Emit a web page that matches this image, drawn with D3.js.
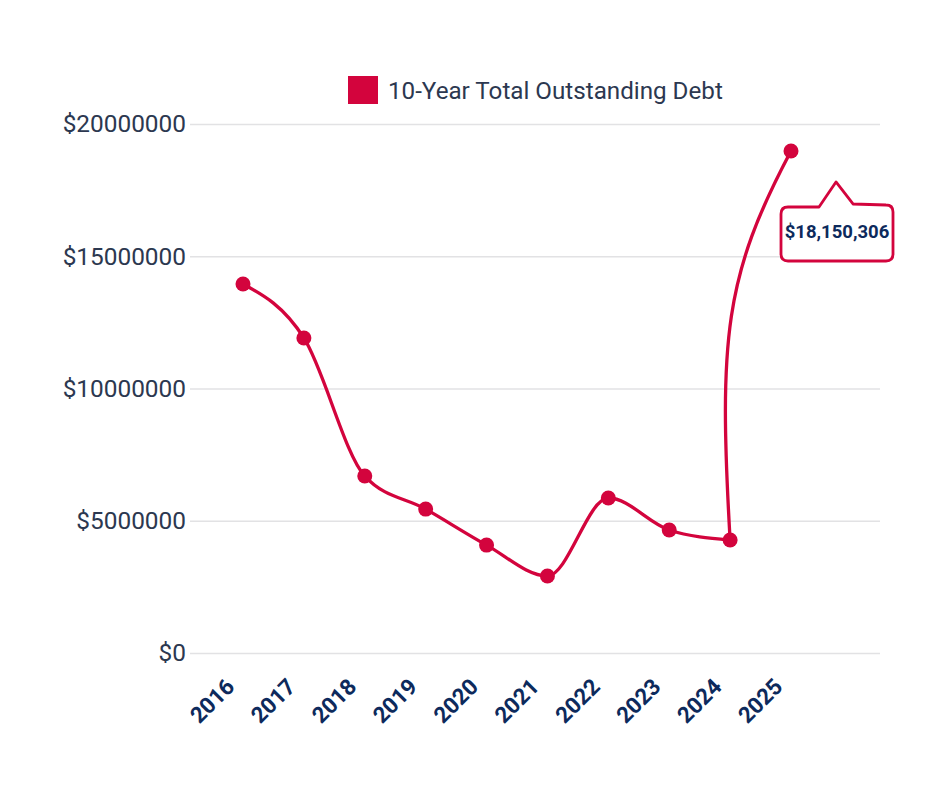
<!DOCTYPE html>
<html>
<head>
<meta charset="utf-8">
<script src="https://cdn.jsdelivr.net/npm/d3@7"></script>
<style>
  body { margin: 0; background: #fff; }
  svg { display: block; font-family: Roboto, "Noto Sans", sans-serif; }
</style>
</head>
<body>
<svg width="940" height="788"></svg>
<script>
// data
const years = ["2016", "2017", "2018", "2019", "2020", "2021", "2022", "2023", "2024", "2025"];
const debt = [13950000, 11910000, 6690000, 5440000, 4080000, 2910000, 5860000, 4650000, 4270000, 18980000];
const yTicks = [0, 5000000, 10000000, 15000000, 20000000];
const seriesName = "10-Year Total Outstanding Debt";
const tipLabel = "$18,150,306";

const red = "#d3043d",
    navy = "#0d2a5c",
    grey = "#2c3850";

let width = 940, height = 788;
let margin = { top: 124, right: 60, bottom: 135, left: 190 };

const data = years.map((y, i) => ({ year: y, value: debt[i] }));

const svg = d3.select("svg");

x = d3.scalePoint()
    .domain(years)
    .range([243, 791]);

y = d3.scaleLinear()
    .domain([0, 20000000])
    .range([height - margin.bottom, margin.top]);

// gridlines + y labels
yAxis = g => g
    .attr("transform", "translate(" + margin.left + ",0)")
    .call(d3.axisLeft(y).tickValues(yTicks)
        .tickSize(-(width - margin.right - margin.left))
        .tickPadding(4)
        .tickFormat(d => "$" + d))
    .call(g => g.select(".domain").remove())
    .call(g => g.selectAll(".tick line").attr("stroke", "#e2e2e4").attr("stroke-width", 1.6))
    .call(g => g.selectAll(".tick text")
        .attr("fill", grey)
        .attr("font-size", 24.4)
        .attr("font-family", "Roboto"));

svg.append("g").call(yAxis);

// x labels, rotated
svg.append("g")
    .selectAll("text")
    .data(years)
    .join("text")
    .attr("transform", d => "translate(" + (x(d) - 7) + "," + (height - 100) + ") rotate(-45)")
    .attr("text-anchor", "end")
    .attr("font-size", 22.5)
    .attr("font-weight", "bold")
    .attr("fill", navy)
    .text(d => d);

// line: smooth through 2016-2024
const line = d3.line()
    .x(d => x(d.year))
    .y(d => y(d.value))
    .curve(d3.curveMonotoneX);

svg.append("path")
    .datum(data.slice(0, 9))
    .attr("fill", "none")
    .attr("stroke", red)
    .attr("stroke-width", 3.3)
    .attr("d", line);

// the jump 2024 -> 2025 leaves almost straight up and bends into the last point
const a = data[8], b = data[9];
const x0 = x(a.year), y0 = y(a.value), x1 = x(b.year), y1 = y(b.value);
const rise = y0 - y1;
const jump = d3.path();
jump.moveTo(x0, y0);
jump.bezierCurveTo(x0 - 0.03 * rise, y0 - 0.52 * rise, x1 - 0.17 * rise, y1 + 0.32 * rise, x1, y1);
svg.append("path")
    .attr("d", jump.toString())
    .attr("fill", "none")
    .attr("stroke", red)
    .attr("stroke-width", 3.3);

svg.append("g")
    .selectAll("circle")
    .data(data)
    .join("circle")
    .attr("cx", d => x(d.year))
    .attr("cy", d => y(d.value))
    .attr("r", 7.5)
    .attr("fill", red);

// legend
const legend = svg.append("g").attr("transform", "translate(348,76)");
legend.append("rect")
    .attr("width", 30).attr("height", 28)
    .attr("fill", red);
legend.append("text")
    .attr("x", 40).attr("y", 23)
    .attr("font-size", 24.2)
    .attr("fill", grey)
    .text(seriesName);

// tooltip on the last point
const tx = x1 - 10,
    ty = y1 + 56,
    tw = 112, th = 54, r = 7;
const tip = svg.append("g").attr("transform", "translate(" + tx + "," + ty + ")");
const p = d3.path();
p.moveTo(r, 0);
p.lineTo(38, 0);
p.lineTo(55, -25);
p.lineTo(72, -3);
p.lineTo(tw - r, -2);
p.quadraticCurveTo(tw, -2, tw, r - 2);
p.lineTo(tw, th - r);
p.quadraticCurveTo(tw, th, tw - r, th);
p.lineTo(r, th);
p.quadraticCurveTo(0, th, 0, th - r);
p.lineTo(0, r);
p.quadraticCurveTo(0, 0, r, 0);
p.closePath();
tip.append("path")
    .attr("d", p.toString())
    .attr("fill", "#fff")
    .attr("stroke", red)
    .attr("stroke-width", 2.8)
    .attr("stroke-linejoin", "round");
tip.append("text")
    .attr("x", tw / 2).attr("y", 31)
    .attr("text-anchor", "middle")
    .attr("font-size", 18.5)
    .attr("font-weight", "bold")
    .attr("fill", navy)
    .text(tipLabel);
</script>
</body>
</html>
